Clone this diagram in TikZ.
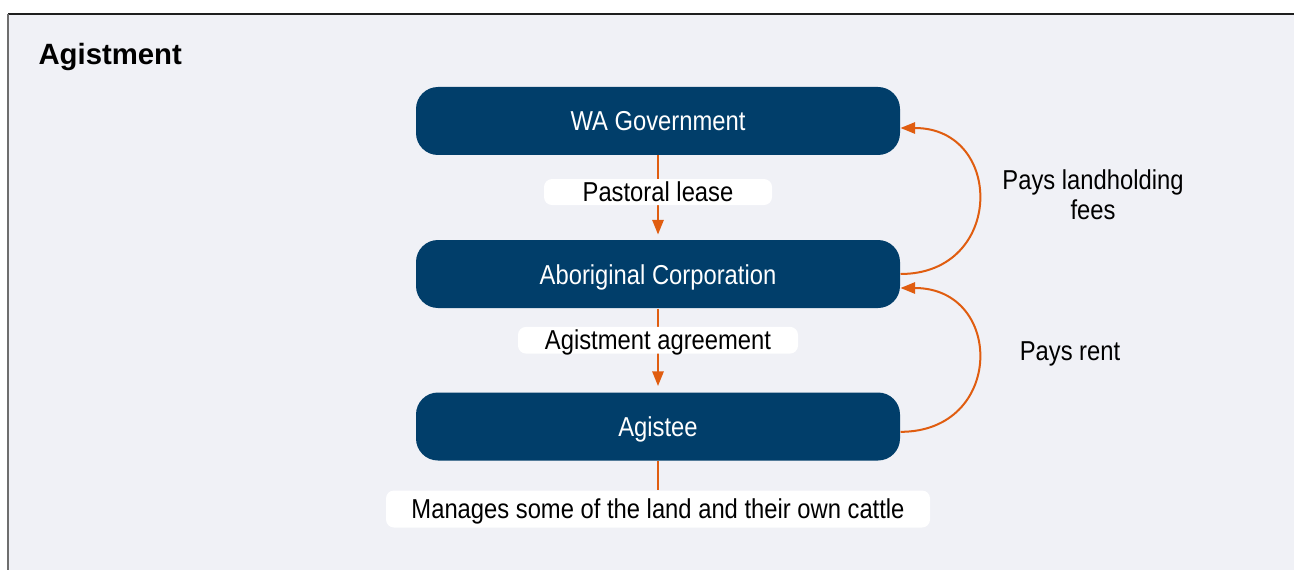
\documentclass[tikz,border=0pt]{standalone}
\usepackage{fontspec}
\setmainfont{Liberation Sans}
\newfontfamily\condensed[FakeStretch=0.87]{Liberation Sans}
\usepackage{xcolor}
\usepackage{tikz}
\usetikzlibrary{arrows.meta}
\tikzset{every picture/.style={line width=0.75pt}}

\definecolor{panelbg}{RGB}{240,241,246}
\definecolor{boxnavy}{RGB}{1,62,106}
\definecolor{flow}{RGB}{224,93,16}

\begin{document}
\begin{tikzpicture}[x=0.75pt,y=0.75pt,yscale=-1,xscale=1,
    party/.style={fill=boxnavy,rounded corners=16.5pt,minimum width=363pt,minimum height=51pt,inner sep=0pt,text height=15pt,text depth=-4pt,text=white,font=\condensed\fontsize{20.5}{22.5}\selectfont},
    tag/.style={fill=white,rounded corners=6pt,minimum height=19.5pt,inner sep=0pt,text height=14.5pt,text depth=-4pt,text=black,font=\condensed\fontsize{20.5}{22.5}\selectfont},
    note/.style={align=center,inner sep=0pt,font=\condensed\fontsize{20.5}{22.5}\selectfont},
    flowline/.style={draw=flow,line width=1.5pt},
    flowarrow/.style={flowline,-{Triangle[length=11pt,width=8.5pt]}}]
    \useasboundingbox (0,0) rectangle (1294,570);
    % panel
    \fill [panelbg] (8,14) rectangle (1294,570);
    \draw [line width=1.5pt,color={rgb, 255:red, 30; green, 30; blue, 30 }] (8,14) -- (1294,14);
    \draw [line width=1.5pt,color={rgb, 255:red, 110; green, 110; blue, 110 }] (8,14) -- (8,570);
    \draw (38,65) node [anchor=base west][inner sep=0pt] [font=\bfseries\fontsize{22}{24}\selectfont] (title) {Agistment};
    % parties
    \draw (658,121) node [party] (wa) {WA Government};
    \draw (658,274) node [party] (abo) {Aboriginal Corporation};
    \draw (658,426.5) node [party] (agi) {Agistee};
    % downward flow
    \draw [flowarrow,shorten >=3.75pt] (wa) -- node [tag,pos=0.435,minimum width=171pt] (lease) {Pastoral lease} (abo);
    \draw [flowarrow,shorten >=4.5pt] (abo) -- node [tag,pos=0.38,minimum width=210pt,minimum height=20pt] (agree) {Agistment agreement} (agi);
    \draw (658,509) node [tag,minimum width=408pt,minimum height=27.75pt] (manage) {Manages some of the land and their own cattle};
    \draw [flowline] (agi) -- (manage);
    % payments
    \draw [flowarrow] (abo.east) .. controls +(104,0) and +(104,0) .. ([yshift=5.25pt]wa.east);
    \draw [flowarrow] ([yshift=4pt]agi.east) .. controls +(104,0) and +(104,0) .. ([yshift=10.5pt]abo.east);
    \draw (1093,195) node [note] (fees) {Pays landholding\\fees};
    \draw (1070,354) node [note] (rent) {Pays rent};
\end{tikzpicture}
\end{document}
